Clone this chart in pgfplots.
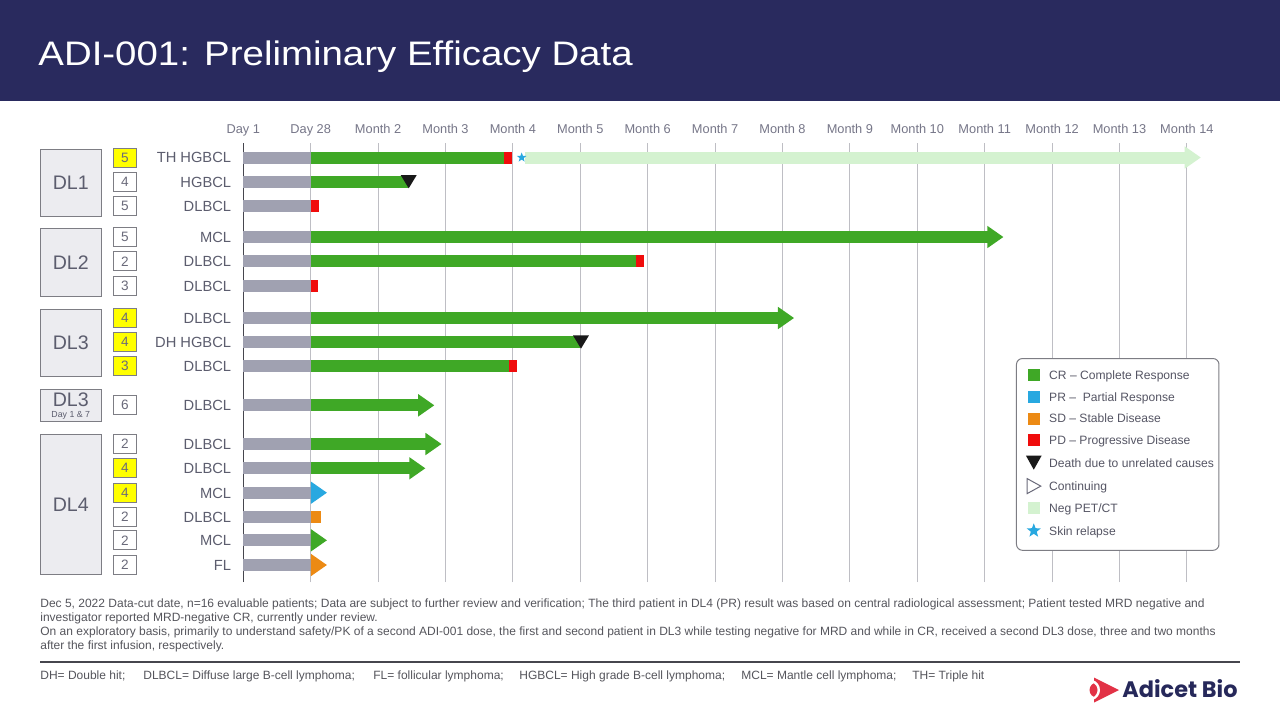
\documentclass[border=0pt]{standalone}
\usepackage{fontspec}
\setmainfont{Liberation Sans}
\newfontfamily\logofont{Poppins}
\usepackage{pgfplots}
\pgfplotsset{compat=1.18}

\definecolor{navy}{RGB}{41,42,94}
\definecolor{cgreen}{RGB}{63,168,38}
\definecolor{cgrey}{RGB}{160,161,177}
\definecolor{cred}{RGB}{240,12,12}
\definecolor{cblue}{RGB}{40,168,224}
\definecolor{corange}{RGB}{236,138,20}
\definecolor{clight}{RGB}{212,242,208}
\definecolor{cblack}{RGB}{25,25,25}
\definecolor{cyellow}{RGB}{255,255,0}
\definecolor{gridc}{RGB}{190,190,196}
\definecolor{darkgrid}{RGB}{70,70,78}
\definecolor{ticktxt}{RGB}{118,118,136}
\definecolor{labtxt}{RGB}{92,93,110}
\definecolor{numtxt}{RGB}{106,106,122}
\definecolor{boxfill}{RGB}{236,236,240}
\definecolor{boxdraw}{RGB}{125,125,132}
\definecolor{legtxt}{RGB}{85,85,100}
\definecolor{foottxt}{RGB}{85,85,92}
\definecolor{logored}{RGB}{226,50,70}
\definecolor{logonavy}{RGB}{38,40,90}

\newcommand{\catfont}{\fontsize{7.35pt}{8pt}\selectfont}
\newcommand{\numfont}{\fontsize{6.8pt}{8pt}\selectfont}
\newcommand{\dlfont}{\fontsize{9.8pt}{11pt}\selectfont}
\newcommand{\footfont}{\fontsize{6.0pt}{7pt}\selectfont}

\pgfdeclareplotmark{rhead}{%
  \pgfpathmoveto{\pgfqpoint{-8pt}{5.6pt}}%
  \pgfpathlineto{\pgfqpoint{0pt}{0pt}}%
  \pgfpathlineto{\pgfqpoint{-8pt}{-5.6pt}}%
  \pgfpathclose\pgfusepathqfill}
\pgfdeclareplotmark{dtri}{%
  \pgfpathmoveto{\pgfqpoint{-4pt}{3.3pt}}%
  \pgfpathlineto{\pgfqpoint{4pt}{3.3pt}}%
  \pgfpathlineto{\pgfqpoint{0pt}{-3.3pt}}%
  \pgfpathclose\pgfusepathqfill}
\pgfdeclareplotmark{fstar}{%
  \pgfpathmoveto{\pgfpointpolar{90}{2.5pt}}%
  \pgfpathlineto{\pgfpointpolar{126}{1.05pt}}%
  \pgfpathlineto{\pgfpointpolar{162}{2.5pt}}%
  \pgfpathlineto{\pgfpointpolar{198}{1.05pt}}%
  \pgfpathlineto{\pgfpointpolar{234}{2.5pt}}%
  \pgfpathlineto{\pgfpointpolar{270}{1.05pt}}%
  \pgfpathlineto{\pgfpointpolar{306}{2.5pt}}%
  \pgfpathlineto{\pgfpointpolar{342}{1.05pt}}%
  \pgfpathlineto{\pgfpointpolar{18}{2.5pt}}%
  \pgfpathlineto{\pgfpointpolar{54}{1.05pt}}%
  \pgfpathclose\pgfusepathqfill}

\newcommand{\seg}[4]{\addplot[forget plot, draw=#1, line width=6pt] coordinates {(#2,#4) (#3,#4)};}
\newcommand{\tip}[3]{\addplot[forget plot, only marks, mark=rhead, color=#1] coordinates {(#2,#3)};}
\newcommand{\imgbox}{\path[draw=none, fill=none] (-2.25pt,-4pt) rectangle (9pt,4pt);}
\newcommand{\sqimg}[1]{\addlegendimage{legend image code/.code={\imgbox \path[fill=#1, draw=none, sharp corners, yshift=0.8pt] (0.8pt,-3pt) rectangle (6.8pt,3pt);}}}

\begin{document}
\begin{tikzpicture}
\useasboundingbox (0,0) rectangle (640pt,-360pt);
\fill[white] (0,0) rectangle (640pt,-360pt);
\fill[navy] (0,0) rectangle (640pt,-50.5pt);

\begin{axis}[
  at={(121.65pt,-71.5pt)}, anchor=north west,
  scale only axis, width=481.91pt, height=219.5pt,
  xmin=0, xmax=14.3, ymin=-582, ymax=-143,
  axis line style={draw=none},
  ytick=\empty,
  xtick={1,...,14},
  xticklabels={Day 28,Month 2,Month 3,Month 4,Month 5,Month 6,Month 7,Month 8,Month 9,Month 10,Month 11,Month 12,Month 13,Month 14},
  extra x ticks={0}, extra x tick labels={Day 1},
  extra x tick style={major grid style={draw=darkgrid, line width=0.6pt}},
  xticklabel pos=upper,
  xticklabel style={anchor=base, yshift=5.0pt, font=\fontsize{6.4pt}{7pt}\selectfont, text=ticktxt},
  major tick length=0pt,
  tick style={draw=none},
  xmajorgrids, major grid style={draw=gridc, line width=0.5pt},
  clip=false,
  legend cell align=left,
  legend style={at={(axis cs:11.464,-358)}, anchor=north west, draw=boxdraw, line width=0.5pt,
    rounded corners=3pt, fill=white, inner xsep=2.5pt, inner ysep=5pt,
    font=\fontsize{6.05pt}{7pt}\selectfont, row sep=2.9pt, column sep=2.6pt,
    cells={anchor=west}, nodes={inner sep=0pt, text=legtxt}},
]
% legend
\sqimg{cgreen}\addlegendentry{CR – Complete Response}
\sqimg{cblue}\addlegendentry{PR – \ Partial Response}
\sqimg{corange}\addlegendentry{SD – Stable Disease}
\sqimg{cred}\addlegendentry{PD – Progressive Disease}
\addlegendimage{legend image code/.code={\imgbox \path[fill=cblack, draw=none, sharp corners, yshift=0.8pt] (0pt,3.5pt) -- (7.8pt,3.5pt) -- (3.9pt,-3.5pt) -- cycle;}}
\addlegendentry{Death due to unrelated causes}
\addlegendimage{legend image code/.code={\imgbox \path[draw=numtxt, fill=white, line width=0.5pt, sharp corners, yshift=0.8pt] (0.6pt,3.75pt) -- (7.4pt,0pt) -- (0.6pt,-3.75pt) -- cycle;}}
\addlegendentry{Continuing}
\sqimg{clight}\addlegendentry{Neg PET/CT}
\addlegendimage{legend image code/.code={\imgbox \path[fill=cblue, draw=none, sharp corners, shift={(3.9pt,0.8pt)}] (90:3.7pt) -- (126:1.55pt) -- (162:3.7pt) -- (198:1.55pt) -- (234:3.7pt) -- (270:1.55pt) -- (306:3.7pt) -- (342:1.55pt) -- (18:3.7pt) -- (54:1.55pt) -- cycle;}}
\addlegendentry{Skin relapse}

% grey lead-in (Day 1 to Day 28)
\seg{cgrey}{0}{1}{-157.5}
\seg{cgrey}{0}{1}{-181.7}
\seg{cgrey}{0}{1}{-206}
\seg{cgrey}{0}{1}{-237}
\seg{cgrey}{0}{1}{-261.3}
\seg{cgrey}{0}{1}{-285.7}
\seg{cgrey}{0}{1}{-318}
\seg{cgrey}{0}{1}{-342}
\seg{cgrey}{0}{1}{-366.3}
\seg{cgrey}{0}{1}{-405.3}
\seg{cgrey}{0}{1}{-444}
\seg{cgrey}{0}{1}{-468.3}
\seg{cgrey}{0}{1}{-492.7}
\seg{cgrey}{0}{1}{-516.7}
\seg{cgrey}{0}{1}{-540.3}
\seg{cgrey}{0}{1}{-565}

% DL1
\seg{cgreen}{1}{3.87}{-157.5}
\seg{cred}{3.868}{3.99}{-157.5}
\seg{clight}{4.18}{13.975}{-157.5}
\tip{clight}{14.205}{-157.5}
\addplot[forget plot, only marks, mark=fstar, color=cblue] coordinates {(4.13,-157.5)};
\seg{cgreen}{1}{2.45}{-181.7}
\addplot[forget plot, only marks, mark=dtri, color=cblack] coordinates {(2.454,-181.7)};
\seg{cred}{1}{1.119}{-206}
% DL2
\seg{cgreen}{1}{11.05}{-237}
\tip{cgreen}{11.276}{-237}
\seg{cgreen}{1}{5.826}{-261.3}
\seg{cred}{5.826}{5.944}{-261.3}
\seg{cred}{1}{1.104}{-285.7}
% DL3
\seg{cgreen}{1}{7.945}{-318}
\tip{cgreen}{8.17}{-318}
\seg{cgreen}{1}{5.0}{-342}
\addplot[forget plot, only marks, mark=dtri, color=cblack] coordinates {(5.01,-342)};
\seg{cgreen}{1}{3.94}{-366.3}
\seg{cred}{3.94}{4.06}{-366.3}
% DL3 day 1 & 7
\seg{cgreen}{1}{2.61}{-405.3}
\tip{cgreen}{2.833}{-405.3}
% DL4
\seg{cgreen}{1}{2.715}{-444}
\tip{cgreen}{2.94}{-444}
\seg{cgreen}{1}{2.475}{-468.3}
\tip{cgreen}{2.70}{-468.3}
\tip{cblue}{1.24}{-492.7}
\seg{corange}{1}{1.153}{-516.7}
\tip{cgreen}{1.24}{-540.3}
\tip{corange}{1.24}{-565}
\end{axis}

\begin{scope}[x=0.5pt,y=-0.5pt]
% title
\node[anchor=base west, inner sep=0, text=white, font=\fontsize{17pt}{20pt}\selectfont] at (38,65.5) {\scalebox{1.13}[1]{ADI-001: Preliminary Efficacy Data}};

% dose level boxes
\draw[boxdraw, fill=boxfill, line width=0.5pt] (40,149.3) rectangle (101.7,216.7);
\node[font=\dlfont, text=labtxt] at (70.8,183) {DL1};
\draw[boxdraw, fill=boxfill, line width=0.5pt] (40,228.3) rectangle (101.7,296);
\node[font=\dlfont, text=labtxt] at (70.8,262.2) {DL2};
\draw[boxdraw, fill=boxfill, line width=0.5pt] (40,309.3) rectangle (101.7,376.7);
\node[font=\dlfont, text=labtxt] at (70.8,343) {DL3};
\draw[boxdraw, fill=boxfill, line width=0.5pt] (40,389.3) rectangle (101.7,421.7);
\node[font=\dlfont, text=labtxt, anchor=base, inner sep=0] at (70.8,406.5) {DL3};
\node[font=\fontsize{4.4pt}{5pt}\selectfont, text=labtxt, inner sep=0] at (70.8,415.3) {Day 1 \& 7};
\draw[boxdraw, fill=boxfill, line width=0.5pt] (40,434.3) rectangle (101.7,574.3);
\node[font=\dlfont, text=labtxt] at (70.8,504.3) {DL4};

% rows: number boxes and histology labels
\foreach \y/\lab/\n/\fc in {157.5/TH HGBCL/5/cyellow, 181.7/HGBCL/4/white, 206/DLBCL/5/white, 237/MCL/5/white, 261.3/DLBCL/2/white, 285.7/DLBCL/3/white, 318/DLBCL/4/cyellow, 342/DH HGBCL/4/cyellow, 366.3/DLBCL/3/cyellow, 405.3/DLBCL/6/white, 444/DLBCL/2/white, 468.3/DLBCL/4/cyellow, 492.7/MCL/4/cyellow, 516.7/DLBCL/2/white, 540.3/MCL/2/white, 565/FL/2/white}{
  \draw[boxdraw, fill=\fc, line width=0.5pt] (113.3,\y-9.5) rectangle (136.7,\y+9.5);
  \node[font=\numfont, text=numtxt, inner sep=0] at (125,\y) {\n};
  \node[font=\catfont, text=labtxt, anchor=base east, inner sep=0] at (231.5,\y+5.3) {\lab};
}

% footnotes
\node[anchor=base west, inner sep=0, font=\footfont, text=foottxt] at (40,607) {Dec 5, 2022 Data-cut date, n=16 evaluable patients; Data are subject to further review and verification; The third patient in DL4 (PR) result was based on central radiological assessment; Patient tested MRD negative and};
\node[anchor=base west, inner sep=0, font=\footfont, text=foottxt] at (40,621) {investigator reported MRD-negative CR, currently under review.};
\node[anchor=base west, inner sep=0, font=\footfont, text=foottxt] at (40,635) {On an exploratory basis, primarily to understand safety/PK of a second ADI-001 dose, the first and second patient in DL3 while testing negative for MRD and while in CR, received a second DL3 dose, three and two months};
\node[anchor=base west, inner sep=0, font=\footfont, text=foottxt] at (40,649) {after the first infusion, respectively.};
\draw[darkgrid, line width=0.6pt] (40,662) -- (1240,662);
\foreach \x/\t in {40/{DH= Double hit;}, 143/{DLBCL= Diffuse large B-cell lymphoma;}, 373/{FL= follicular lymphoma;}, 519/{HGBCL= High grade B-cell lymphoma;}, 741/{MCL= Mantle cell lymphoma;}, 912/{TH= Triple hit}}{
  \node[anchor=base west, inner sep=0, font=\footfont, text=foottxt] at (\x,679) {\t};
}

% logo
\fill[logored] (1097,690) circle (7.5);
\fill[logored] (1094,677.5) -- (1119,690) -- (1094,702.5) -- cycle;
\draw[white, line width=1.2pt] (1092,681) .. controls (1101,684) and (1101,696) .. (1092,699);
\node[anchor=base west, inner sep=0, text=logonavy, font=\logofont\bfseries\fontsize{11.2pt}{12pt}\selectfont] at (1122,697) {Adicet Bio};
\end{scope}
\end{tikzpicture}
\end{document}
